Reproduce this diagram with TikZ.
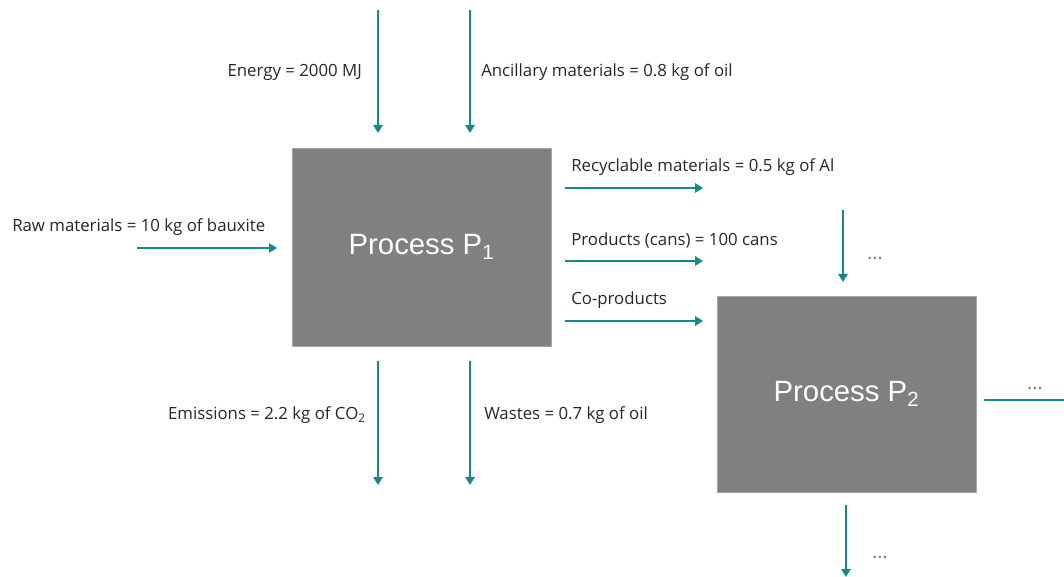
\documentclass[tikz,border=0pt]{standalone}
\usepackage{fontspec}
\setmainfont{Open Sans}
\newfontfamily\procfont{Liberation Sans}
\usetikzlibrary{arrows.meta}

\definecolor{flowteal}{RGB}{19,138,138}
\definecolor{procgrey}{RGB}{128,128,128}

\tikzset{
	flow/.style={draw=flowteal, line width=2.2pt, -{Triangle[length=6pt,width=7pt]}},
	process/.style={fill=procgrey, draw=procgrey!70, inner sep=0pt, text=white, font=\procfont\fontsize{22}{26}\selectfont},
	lbl/.style={inner sep=0pt, font=\fontsize{12.6}{14}\selectfont, text=black!85},
	dots/.style={inner sep=0pt, font=\fontsize{15}{16}\selectfont, text=black!50}
}

\begin{document}
\begin{tikzpicture}[x=0.75pt, y=-0.75pt]
			\useasboundingbox (0,0) rectangle (1064,577);

			% the two processes
			\node[process, minimum width=194pt, minimum height=148.5pt] (p1) at (421.5,247) {Process P\textsubscript{1}};
			\node[process, minimum width=194pt, minimum height=147pt] (p2) at (846.5,394) {Process P\textsubscript{2}};

			% inputs of P1
			\coordinate (eTop) at (378,10);   \coordinate (eEnd) at (378,133);
			\coordinate (aTop) at (470,10);   \coordinate (aEnd) at (470,133);
			\coordinate (rStart) at (137,248); \coordinate (rEnd) at (277,248);
			\draw[flow] (eTop) -- (eEnd);
			\draw[flow] (aTop) -- (aEnd);
			\draw[flow] (rStart) -- (rEnd);
			\node[lbl, anchor=east] (energy) at (362,72) {Energy = 2000 MJ};
			\node[lbl, anchor=west] (ancil) at (481,72) {Ancillary materials = 0.8 kg of oil};
			\node[lbl, anchor=west] (raw) at (12,227) {Raw materials = 10 kg of bauxite};

			% outputs of P1 to the right
			\foreach \y/\name/\txt in {188/recyc/{Recyclable materials = 0.5 kg of Al},
				261/prod/{Products (cans) = 100 cans},
				321/coprod/{Co-products}}
			{
				\coordinate (\name S) at (565,\y);
				\coordinate (\name E) at (703,\y);
				\draw[flow] (\name S) -- (\name E);
				\node[lbl, anchor=west] (\name) at (571,\y-21) {\txt};
			}

			% outputs of P1 downwards
			\coordinate (emS) at (378,361);  \coordinate (emE) at (378,485);
			\coordinate (waS) at (470,361);  \coordinate (waE) at (470,485);
			\draw[flow] (emS) -- (emE);
			\draw[flow] (waS) -- (waE);
			\node[lbl, anchor=east] (emis) at (366,415) {Emissions = 2.2 kg of CO\textsubscript{2}};
			\node[lbl, anchor=west] (wastes) at (484,415) {Wastes = 0.7 kg of oil};

			% flows of P2
			\coordinate (p2inS) at (843,210); \coordinate (p2inE) at (843,282);
			\coordinate (p2rS) at (984,400);  \coordinate (p2rE) at (1064,400);
			\coordinate (p2dS) at (846,505);  \coordinate (p2dE) at (846,577);
			\draw[flow] (p2inS) -- (p2inE);
			\draw[draw=flowteal, line width=2.2pt] (p2rS) -- (p2rE);
			\draw[flow] (p2dS) -- (p2dE);
			\node[dots] (dotsIn) at (875,258) {\dots};
			\node[dots] (dotsR) at (1035,388) {\dots};
			\node[dots] (dotsD) at (880,557) {\dots};
		\end{tikzpicture}
\end{document}
